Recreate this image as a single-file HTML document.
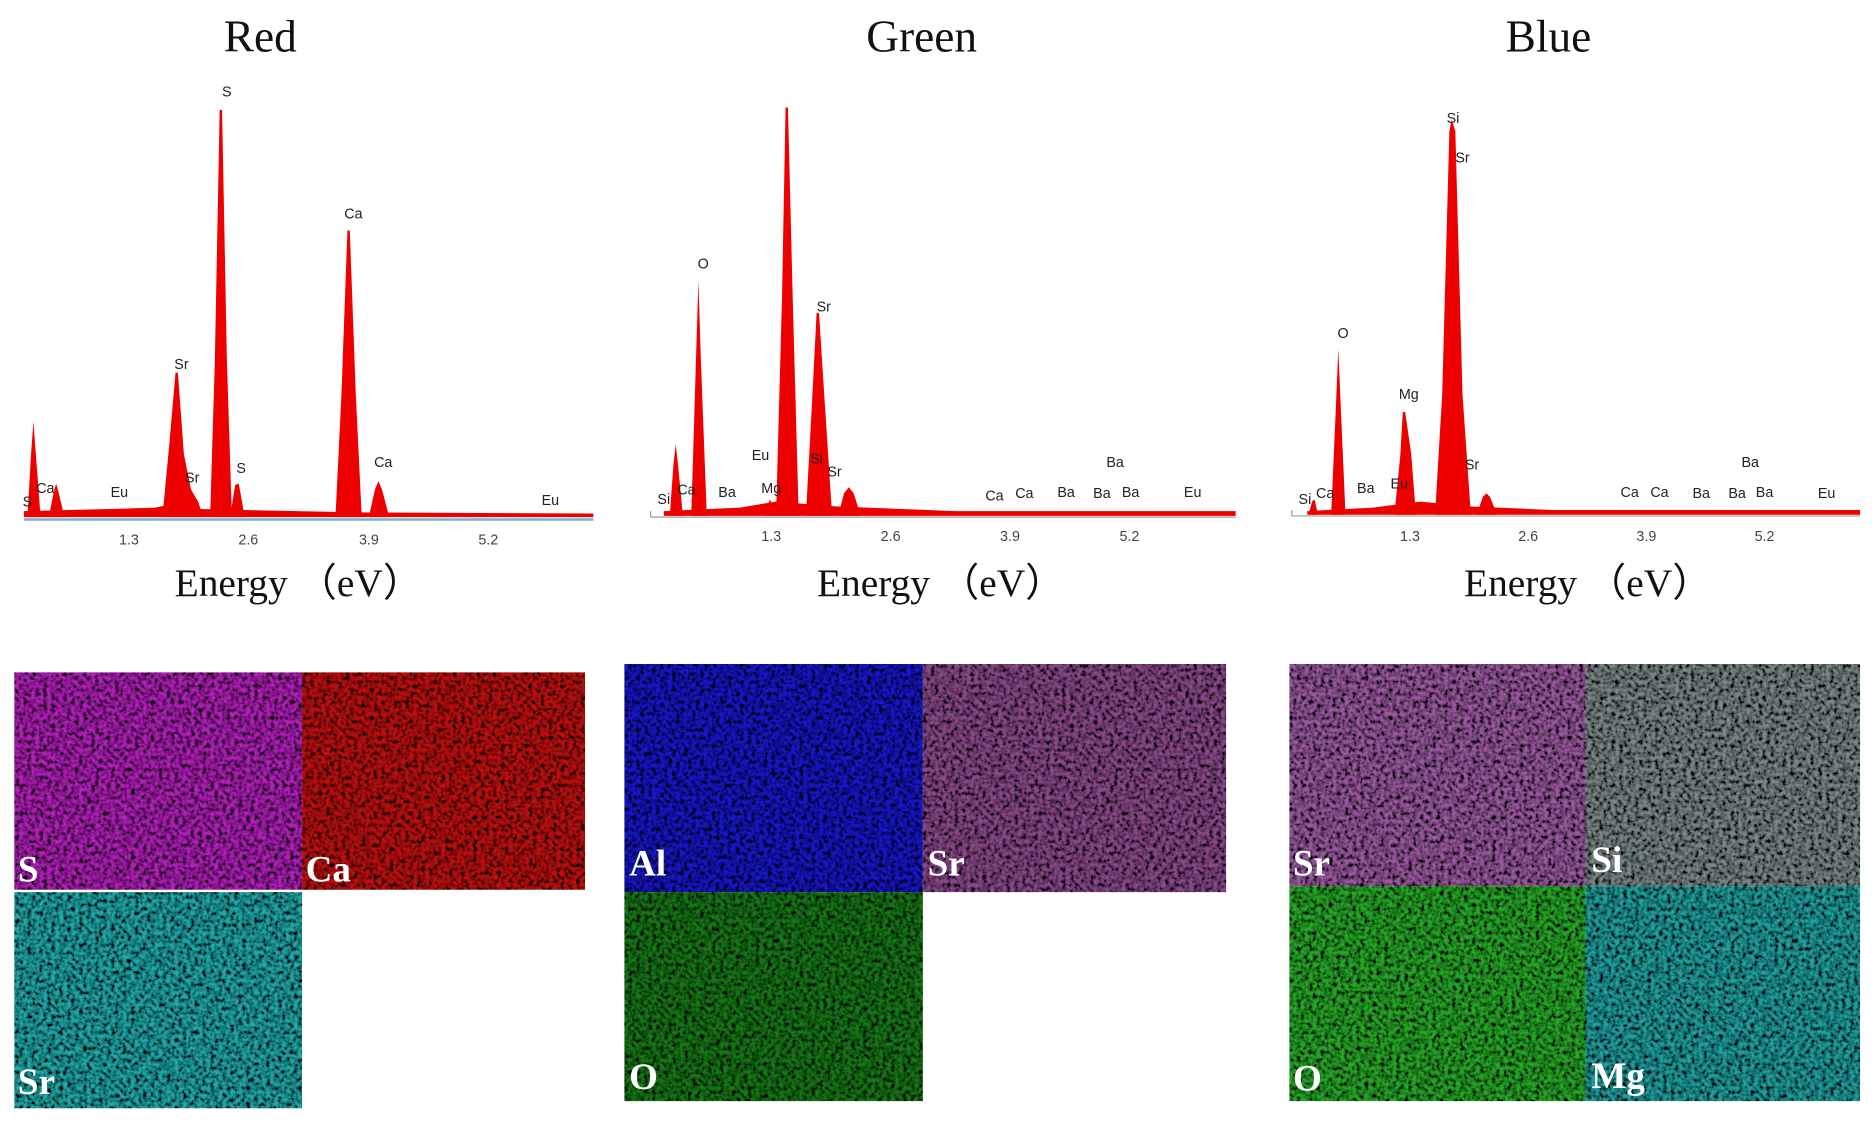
<!DOCTYPE html>
<html><head><meta charset="utf-8"><style>
html,body{margin:0;padding:0;background:#fff;width:1872px;height:1125px;overflow:hidden}
svg{display:block}
.t{font-family:"Liberation Serif",serif;font-size:38px;fill:#111;text-anchor:middle}
.ax{font-family:"Liberation Serif",serif;font-size:33px;fill:#111;text-anchor:middle}
.pk{font-family:"Liberation Sans",sans-serif;font-size:12px;fill:#222;text-anchor:middle}
.tk{font-family:"Liberation Sans",sans-serif;font-size:12px;fill:#444;text-anchor:middle}
.ml{font-family:"Liberation Serif",serif;font-size:31px;font-weight:bold;fill:#fff}
</style></head><body>
<svg width="1872" height="1125" viewBox="0 0 1568 942" preserveAspectRatio="none" xmlns="http://www.w3.org/2000/svg">
<defs>
<filter id="n" x="0" y="0" width="100%" height="100%">
<feTurbulence type="fractalNoise" baseFrequency="0.3" numOctaves="2" seed="3" result="t"/>
<feColorMatrix in="t" type="matrix" values="0 0 0 0 0  0 0 0 0 0  0 0 0 0 0  2.4 0 0 0 -0.75" result="m"/>
<feComposite in="m" in2="SourceGraphic" operator="atop"/>
</filter>
</defs>
<text class="t" x="218" y="43">Red</text>
<text class="t" x="772" y="43">Green</text>
<text class="t" x="1297" y="43">Blue</text>

<!-- RED -->
<g fill="#ee0000">
<path d="M20,433 L20,428 L100,426 L130,425 L140,423 L160,426 L200,427 L300,429 L497,430 L497,433 Z"/>
<path d="M23,433 L26,380 L28,353 L30,380 L34,433Z"/>
<path d="M41,433 L45,412 L47,405 L49,412 L54,433Z"/>
<path d="M136,433 L142,370 L147,312 L149,312 L154,380 L160,410 L166,420 L170,433Z"/>
<path d="M176,433 L180,300 L184,92 L186,92 L190,300 L194,425 L197,406 L200,405 L205,433Z"/>
<path d="M281,433 L286,330 L291,193 L293,193 L298,330 L303,433Z"/>
<path d="M309,433 L314,410 L317,403 L320,410 L326,433Z"/>
</g>
<line x1="20" y1="435" x2="497" y2="435" stroke="#7ab0d8" stroke-width="2"/>
<text class="tk" x="108" y="456">1.3</text><text class="tk" x="208" y="456">2.6</text><text class="tk" x="309" y="456">3.9</text><text class="tk" x="409" y="456">5.2</text>
<g class="pk">
<text x="23" y="424">S</text><text x="38" y="413">Ca</text><text x="100" y="416">Eu</text><text x="152" y="309">Sr</text><text x="190" y="81">S</text><text x="161" y="404">Sr</text><text x="202" y="396">S</text><text x="296" y="183">Ca</text><text x="321" y="391">Ca</text><text x="461" y="423">Eu</text>
</g>
<text class="ax" x="250" y="499">Energy （eV）</text>

<!-- GREEN -->
<g fill="#ee0000">
<path d="M556,432 L556,428 L620,425 L650,420 L700,424 L800,428 L1035,428 L1035,432Z"/>
<path d="M561,432 L564,390 L566,372 L568,390 L572,432Z"/>
<path d="M579,432 L583,300 L585,235 L587,300 L592,432Z"/>
<path d="M650,432 L655,250 L658,90 L660,90 L664,250 L669,432Z"/>
<path d="M675,432 L680,340 L684,262 L686,262 L691,340 L697,432Z"/>
<path d="M702,432 L707,413 L711,408 L715,413 L721,432Z"/>
<path d="M640,432 L645,418 L650,432Z"/>
</g>
<line x1="545" y1="433" x2="1035" y2="433" stroke="#999" stroke-width="1"/>
<line x1="545" y1="428" x2="545" y2="433" stroke="#999"/>
<text class="tk" x="646" y="453">1.3</text><text class="tk" x="746" y="453">2.6</text><text class="tk" x="846" y="453">3.9</text><text class="tk" x="946" y="453">5.2</text>
<g class="pk">
<text x="556" y="422">Si</text><text x="575" y="414">Ca</text><text x="609" y="416">Ba</text><text x="637" y="385">Eu</text><text x="646" y="413">Mg</text><text x="589" y="225">O</text><text x="690" y="261">Sr</text><text x="684" y="388">Si</text><text x="699" y="399">Sr</text><text x="833" y="419">Ca</text><text x="858" y="417">Ca</text><text x="893" y="416">Ba</text><text x="923" y="417">Ba</text><text x="934" y="391">Ba</text><text x="947" y="416">Ba</text><text x="999" y="416">Eu</text>
</g>
<text class="ax" x="788" y="499">Energy （eV）</text>

<!-- BLUE -->
<g fill="#ee0000">
<path d="M1095,431 L1095,428 L1150,425 L1190,420 L1230,424 L1300,427 L1558,427 L1558,431Z"/>
<path d="M1096,431 L1099,420 L1101,418 L1104,431Z"/>
<path d="M1115,431 L1119,340 L1121,292 L1123,340 L1127,431Z"/>
<path d="M1168,431 L1173,380 L1175,345 L1177,345 L1182,380 L1186,431Z"/>
<path d="M1202,431 L1208,330 L1214,110 L1216,100 L1219,110 L1225,330 L1232,431Z"/>
<path d="M1237,431 L1242,416 L1245,413 L1248,416 L1254,431Z"/>
</g>
<line x1="1082" y1="432" x2="1558" y2="432" stroke="#999" stroke-width="1"/>
<line x1="1082" y1="427" x2="1082" y2="432" stroke="#999"/>
<text class="tk" x="1181" y="453">1.3</text><text class="tk" x="1280" y="453">2.6</text><text class="tk" x="1379" y="453">3.9</text><text class="tk" x="1478" y="453">5.2</text>
<g class="pk">
<text x="1093" y="422">Si</text><text x="1110" y="417">Ca</text><text x="1144" y="413">Ba</text><text x="1172" y="409">Eu</text><text x="1125" y="283">O</text><text x="1180" y="334">Mg</text><text x="1217" y="103">Si</text><text x="1225" y="136">Sr</text><text x="1233" y="393">Sr</text><text x="1365" y="416">Ca</text><text x="1390" y="416">Ca</text><text x="1425" y="417">Ba</text><text x="1455" y="417">Ba</text><text x="1466" y="391">Ba</text><text x="1478" y="416">Ba</text><text x="1530" y="417">Eu</text>
</g>
<text class="ax" x="1330" y="499">Energy （eV）</text>

<!-- MAPS -->
<g filter="url(#n)">
<rect x="12" y="563" width="241" height="182" fill="#b020b8"/>
<rect x="253" y="563" width="237" height="182" fill="#c01010"/>
<rect x="12" y="747" width="241" height="181" fill="#20a8a8"/>
<rect x="523" y="556" width="250" height="191" fill="#1818c8"/>
<rect x="773" y="556" width="254" height="191" fill="#8a4a8a"/>
<rect x="523" y="747" width="250" height="175" fill="#187818"/>
<rect x="1080" y="556" width="248" height="186" fill="#9a5aa0"/>
<rect x="1328" y="556" width="230" height="186" fill="#7a8888"/>
<rect x="1080" y="742" width="248" height="180" fill="#28a828"/>
<rect x="1328" y="742" width="230" height="180" fill="#20a0a0"/>
</g>
<g class="ml">
<text x="15" y="738">S</text><text x="256" y="738">Ca</text><text x="15" y="916">Sr</text>
<text x="527" y="733">Al</text><text x="777" y="733">Sr</text><text x="527" y="912">O</text>
<text x="1083" y="733">Sr</text><text x="1333" y="730">Si</text><text x="1083" y="913">O</text><text x="1333" y="911">Mg</text>
</g>
</svg>
</body></html>
